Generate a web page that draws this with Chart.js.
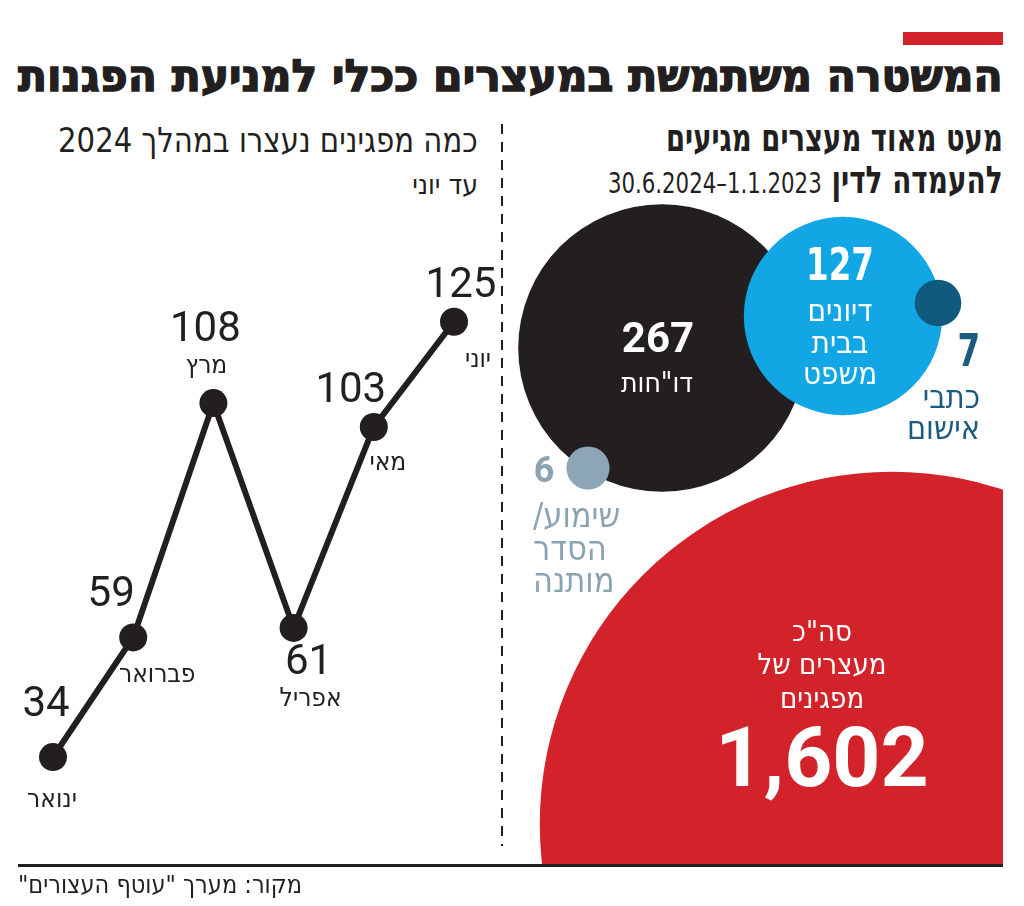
<!DOCTYPE html>
<html lang="he">
<head>
<meta charset="utf-8">
<script src="https://cdn.jsdelivr.net/npm/chart.js@4.4.1/dist/chart.umd.min.js"></script>
<style>
  body { margin: 0; background: #fff; }
  #page { position: relative; width: 1024px; height: 906px; overflow: hidden; background: #fff; color: #231f20;
          font-family: "DejaVu Sans Condensed", sans-serif; }
  .abs { position: absolute; white-space: nowrap; }
  #redBar { left: 903px; top: 32px; width: 100px; height: 13px; background: #d2232a; }
  #title { right: 21px; top: 50px; font-size: 44px; font-weight: bold; direction: rtl; transform-origin: right top;
           -webkit-text-stroke: 1.4px #231f20; }
  #subLeft { right: 546px; top: 120px; font-size: 34px; direction: rtl; transform-origin: right top; }
  #subLeft2 { right: 546px; top: 168px; font-size: 28px; direction: rtl; }
  #subRight1 { right: 21px; top: 116px; font-size: 38px; font-weight: bold; direction: rtl; transform-origin: right top; }
  #subRight2 { right: 21px; top: 158px; font-size: 38px; font-weight: bold; direction: rtl; transform-origin: right top; }
  #subRight2 .d { font-weight: normal; font-size: 29px; }
  #divider { left: 501px; top: 124px; width: 2px; height: 722px;
             background: repeating-linear-gradient(to bottom, #231f20 0 10px, transparent 10px 18px); }
  #rule { left: 18px; top: 864px; width: 985px; height: 3px; background: #231f20; }
  #source { left: 18px; top: 870px; font-size: 25px; direction: rtl; }
  canvas { position: absolute; }
  #lineChart { left: 0; top: 0; }
  #bubbleChart { left: 505px; top: 190px; }
</style>
</head>
<body>
<div id="page">
  <div id="redBar" class="abs"></div>
  <div id="title" class="abs">המשטרה משתמשת במעצרים ככלי למניעת הפגנות</div>
  <div id="subLeft" class="abs">כמה מפגינים נעצרו במהלך 2024</div>
  <div id="subLeft2" class="abs">עד יוני</div>
  <div id="subRight1" class="abs">מעט מאוד מעצרים מגיעים</div>
  <div id="subRight2" class="abs">להעמדה לדין <span class="d">1.1.2023–30.6.2024</span></div>
  <div id="divider" class="abs"></div>
  <canvas id="lineChart" width="505" height="906"></canvas>
  <canvas id="bubbleChart" width="498" height="675"></canvas>
  <div id="rule" class="abs"></div>
  <div id="source" class="abs">מקור: מערך "עוטף העצורים"</div>
</div>
<script>
// Left chart: protesters arrested per month, 2024
const months = ['ינואר', 'פברואר', 'מרץ', 'אפריל', 'מאי', 'יוני'];
const arrests = [34, 59, 108, 61, 103, 125];

// Right chart: what happened to the arrests, 1.1.2023-30.6.2024
const outcomes = ['סה"כ מעצרים של מפגינים', 'דו"חות', 'דיונים בבית משפט', 'כתבי אישום', 'שימוע/הסדר מותנה'];
const outcomeCounts = [1602, 267, 127, 7, 6];

const INK = '#231f20';
const HEB = '"DejaVu Sans Condensed", sans-serif';
const NUM = 'Roboto, "DejaVu Sans", sans-serif';

// where the label texts sit, relative to each point
const monthLabelPos = [
  { v: [-7, -52], m: [-1, 43] },
  { v: [-22, -42], m: [24, 38] },
  { v: [-8, -73], m: [-7, -37] },
  { v: [15, 36], m: [17, 71] },
  { v: [-23, -35], m: [14, 36] },
  { v: [7, -35], m: [24, 38] }
];

// packed-circle layout (page pixels) and circle styling
const bubbleCenters = [[892, 824], [662, 348], [843, 316], [938, 303], [588, 468]];
const bubbleColors = ['#d2232a', INK, '#12a7e4', '#0f5a7d', '#8da6b5'];
const RADIUS_K = 8.8;

const fmt = n => n.toLocaleString('en-US');

const bubbleLabels = [
  [
    { t: 'סה"כ', dx: -70, dy: -191, font: '29px ' + HEB, c: '#fff' },
    { t: 'מעצרים של', dx: -70, dy: -158, font: '29px ' + HEB, c: '#fff' },
    { t: 'מפגינים', dx: -70, dy: -124, font: '29px ' + HEB, c: '#fff' },
    { t: fmt(outcomeCounts[0]), dx: -70, dy: -59, font: 'bold 84px ' + NUM, c: '#fff' }
  ],
  [
    { t: fmt(outcomeCounts[1]), dx: -4, dy: -7, font: 'bold 42px ' + NUM, c: '#fff' },
    { t: 'דו"חות', dx: -5, dy: 37, font: '28px ' + HEB, c: '#fff' }
  ],
  [
    { t: fmt(outcomeCounts[2]), dx: -3, dy: -47, font: 'bold 44px ' + HEB, c: '#fff', sx: 0.82 },
    { t: 'דיונים', dx: -3, dy: -3, font: '31px ' + HEB, c: '#fff' },
    { t: 'בבית', dx: -3, dy: 29, font: '31px ' + HEB, c: '#fff' },
    { t: 'משפט', dx: -3, dy: 60, font: '31px ' + HEB, c: '#fff' }
  ],
  [
    { t: fmt(outcomeCounts[3]), dx: 42, dy: 52, font: 'bold 44px ' + HEB, c: '#1a5b7e', a: 'right', sx: 0.82 },
    { t: 'כתבי', dx: 42, dy: 97, font: '32px ' + HEB, c: '#1a5b7e', a: 'right' },
    { t: 'אישום', dx: 42, dy: 128, font: '32px ' + HEB, c: '#1a5b7e', a: 'right' }
  ],
  [
    { t: fmt(outcomeCounts[4]), dx: -44, dy: 5, font: 'bold 36px ' + NUM, c: '#8aa3b2' },
    { t: 'שימוע/', dx: -55, dy: 50, font: '34px ' + HEB, c: '#8aa3b2', a: 'left' },
    { t: 'הסדר', dx: -55, dy: 83, font: '34px ' + HEB, c: '#8aa3b2', a: 'left' },
    { t: 'מותנה', dx: -55, dy: 115, font: '34px ' + HEB, c: '#8aa3b2', a: 'left' }
  ]
];

function drawText(ctx, t, x, y, font, color, align, sx) {
  ctx.save();
  ctx.font = font;
  ctx.fillStyle = color;
  ctx.textAlign = align || 'center';
  ctx.textBaseline = 'middle';
  ctx.direction = 'rtl';
  ctx.translate(x, y);
  ctx.scale(sx || 1, 1);
  ctx.fillText(t, 0, 0);
  ctx.restore();
}

const monthLabels = {
  id: 'monthLabels',
  afterDatasetsDraw(chart) {
    const ctx = chart.ctx;
    chart.getDatasetMeta(0).data.forEach((pt, i) => {
      const p = monthLabelPos[i];
      drawText(ctx, String(arrests[i]), pt.x + p.v[0], pt.y + p.v[1], '42px ' + NUM, INK);
      drawText(ctx, months[i], pt.x + p.m[0], pt.y + p.m[1], '26px ' + HEB, INK);
    });
  }
};

const circleLabels = {
  id: 'circleLabels',
  afterDatasetsDraw(chart) {
    const ctx = chart.ctx;
    chart.getDatasetMeta(0).data.forEach((el, i) => {
      bubbleLabels[i].forEach(l => drawText(ctx, l.t, el.x + l.dx, el.y + l.dy, l.font, l.c, l.a, l.sx));
    });
  }
};

new Chart(document.getElementById('lineChart'), {
  type: 'line',
  data: {
    labels: months,
    datasets: [{
      data: arrests,
      borderColor: INK,
      borderWidth: 6,
      pointRadius: 14,
      pointBackgroundColor: INK,
      pointBorderWidth: 0,
      tension: 0,
      clip: false
    }]
  },
  options: {
    responsive: false,
    animation: false,
    events: [],
    layout: { autoPadding: false, padding: { left: 53, right: 51, top: 250, bottom: 82 } },
    scales: {
      x: { display: false },
      y: { display: false, min: 20, max: 140 }
    },
    plugins: { legend: { display: false }, tooltip: { enabled: false } }
  },
  plugins: [monthLabels]
});

new Chart(document.getElementById('bubbleChart'), {
  type: 'bubble',
  data: {
    labels: outcomes,
    datasets: [{
      data: outcomeCounts.map((v, i) => ({ x: bubbleCenters[i][0], y: bubbleCenters[i][1], r: RADIUS_K * Math.sqrt(v) })),
      backgroundColor: bubbleColors,
      borderWidth: 0,
      clip: { left: false, top: false, right: 0, bottom: 0 }
    }]
  },
  options: {
    responsive: false,
    animation: false,
    events: [],
    layout: { autoPadding: false, padding: 0 },
    scales: {
      x: { display: false, min: 505, max: 1003 },
      y: { display: false, min: 190, max: 865, reverse: true }
    },
    plugins: { legend: { display: false }, tooltip: { enabled: false } }
  },
  plugins: [circleLabels]
});

// squeeze headings to the widths of the original condensed type
function fitWidth(id, w) {
  const el = document.getElementById(id);
  el.style.transform = 'scaleX(' + (w / el.offsetWidth) + ')';
}
fitWidth('title', 985);
fitWidth('subLeft', 420);
fitWidth('subRight1', 337);
fitWidth('subRight2', 395);
</script>
</body>
</html>
